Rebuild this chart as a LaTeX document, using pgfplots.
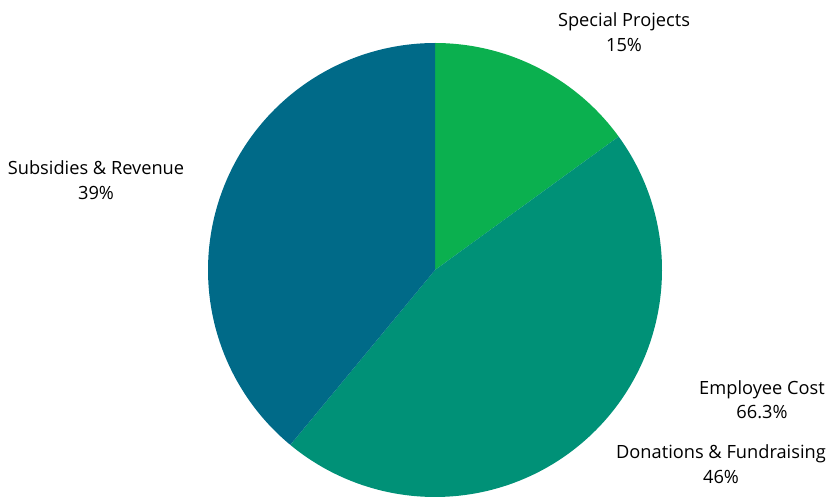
\documentclass[border=0pt]{standalone}
\usepackage{pgfplots}
\pgfplotsset{compat=1.18}
\usepackage{fontspec}
\setmainfont{Open Sans}
\definecolor{cSP}{RGB}{11,176,79}
\definecolor{cDF}{RGB}{0,145,119}
\definecolor{cSR}{RGB}{0,106,136}
% values (percent)
\def\vSP{15}
\def\vDF{46}
\def\vSR{39}
\begin{document}
\begin{tikzpicture}
\pgfmathsetmacro{\aA}{90}
\pgfmathsetmacro{\aB}{90-3.6*\vSP}
\pgfmathsetmacro{\aC}{\aB-3.6*\vDF}
\pgfmathsetmacro{\aD}{\aC-3.6*\vSR}
\begin{axis}[
  scale only axis, width=832bp, height=498bp,
  xmin=0, xmax=832, ymin=0, ymax=498,
  hide axis, clip=false,
]
\path[use as bounding box] (axis cs:0,0) rectangle (axis cs:832,498);
\addplot[fill=cSP, draw=none, domain=\aB:\aA, samples=60] ({435+227*cos(x)},{228+227*sin(x)}) -- (axis cs:435,228) -- cycle;
\addplot[fill=cDF, draw=none, domain=\aC:\aB, samples=120] ({435+227*cos(x)},{228+227*sin(x)}) -- (axis cs:435,228) -- cycle;
\addplot[fill=cSR, draw=none, domain=\aD:\aC, samples=120] ({435+227*cos(x)},{228+227*sin(x)}) -- (axis cs:435,228) -- cycle;
\tikzset{lbl/.style={align=center, font=\fontsize{18.3}{24.5}\selectfont, inner sep=0pt}}
\node[lbl] at (axis cs:624,466) {Special Projects\\15\%};
\node[lbl] at (axis cs:96,318) {Subsidies \& Revenue\\39\%};
\node[lbl] at (axis cs:762,98) {Employee Cost\\66.3\%};
\node[lbl] at (axis cs:721,34) {Donations \& Fundraising\\46\%};
\end{axis}
\end{tikzpicture}
\end{document}
